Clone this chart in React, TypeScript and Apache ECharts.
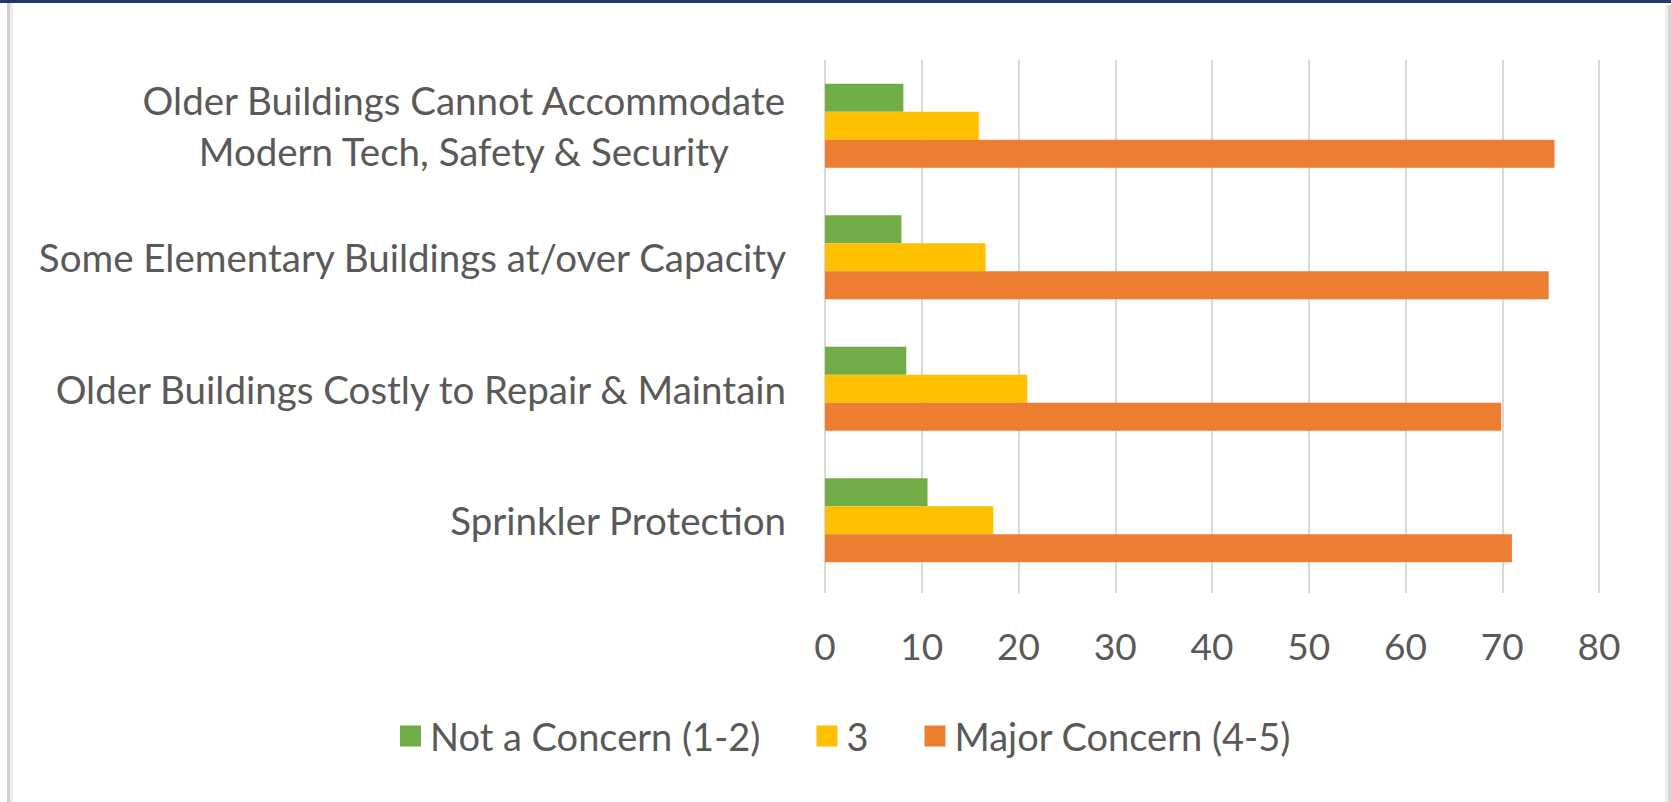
import React, { useEffect, useRef } from "react";
import * as echarts from "echarts";

const categories = [
  "Older Buildings Cannot Accommodate\nModern Tech, Safety & Security",
  "Some Elementary Buildings at/over Capacity",
  "Older Buildings Costly to Repair & Maintain",
  "Sprinkler Protection",
];
const seriesNames = ["Not a Concern (1-2)", "3", "Major Concern (4-5)"];
const notConcern = [8.1, 7.9, 8.4, 10.6];
const neutral = [15.9, 16.6, 20.9, 17.4];
const majorConcern = [75.4, 74.8, 69.9, 71.0];
const xMin = 0;
const xMax = 80;
const xInterval = 10;
const colors = ["#70AD47", "#FFC000", "#ED7D31"];

const FONT = "Lato, 'Open Sans', sans-serif";
const TEXT = "#595959";

export default function App() {
  const ref = useRef<HTMLDivElement>(null);
  useEffect(() => {
    if (!ref.current) return;
    const chart = echarts.init(ref.current, undefined, { renderer: "svg" });
    const values = [notConcern, neutral, majorConcern];
    chart.setOption({
      animation: false,
      backgroundColor: "#ffffff",
      color: colors,
      grid: { left: 825, top: 60, width: 774, height: 526, containLabel: false },
      xAxis: {
        type: "value",
        min: xMin,
        max: xMax,
        interval: xInterval,
        axisLine: { show: false },
        axisTick: { show: true, length: 7, lineStyle: { color: "#D9D9D9", width: 2 } },
        splitLine: { show: true, lineStyle: { color: "#D9D9D9", width: 2 } },
        axisLabel: { color: TEXT, fontSize: 37, fontFamily: FONT, margin: 41 },
      },
      yAxis: {
        type: "category",
        inverse: true,
        data: categories,
        axisLine: { show: false },
        axisTick: { show: false },
        axisLabel: {
          color: TEXT,
          fontSize: 38.5,
          fontFamily: FONT,
          margin: 39,
          align: "right",
          formatter: (v: string) =>
            v.indexOf("\n") >= 0 ? v.split("\n").map((l) => `{m|${l}}`).join("\n") : v,
          rich: {
            m: { align: "center", fontSize: 38.5, fontFamily: FONT, color: TEXT, lineHeight: 51 },
          },
        },
      },
      legend: {
        left: 400,
        top: 716,
        padding: 0,
        icon: "rect",
        itemWidth: 21,
        itemHeight: 21,
        itemGap: 56,
        textStyle: { color: TEXT, fontSize: 38, lineHeight: 40, fontFamily: FONT, padding: [0, 0, 0, 4] },
        data: seriesNames,
      },
      graphic: [
        { type: "rect", shape: { x: 0, y: 0, width: 1671, height: 3 }, style: { fill: "#1F3864" } },
        { type: "rect", shape: { x: 7, y: 3, width: 3, height: 799 }, style: { fill: "#D0D0D0" } },
        { type: "rect", shape: { x: 10, y: 3, width: 3, height: 799 }, style: { fill: "#EEEEEE" } },
        { type: "rect", shape: { x: 1665, y: 5, width: 3, height: 797 }, style: { fill: "#EEEEEE" } },
        { type: "rect", shape: { x: 1668, y: 5, width: 3, height: 797 }, style: { fill: "#D5D5D5" } },
      ],
      series: seriesNames.map((name, i) => ({
        name,
        type: "bar",
        data: values[i],
        barWidth: 28,
        barGap: "0%",
        itemStyle: { color: colors[i] },
      })),
    });
    return () => chart.dispose();
  }, []);
  return (
    <div
      ref={ref}
      style={{ position: "absolute", left: 0, top: 0, width: 1671, height: 802, background: "#fff" }}
    />
  );
}
